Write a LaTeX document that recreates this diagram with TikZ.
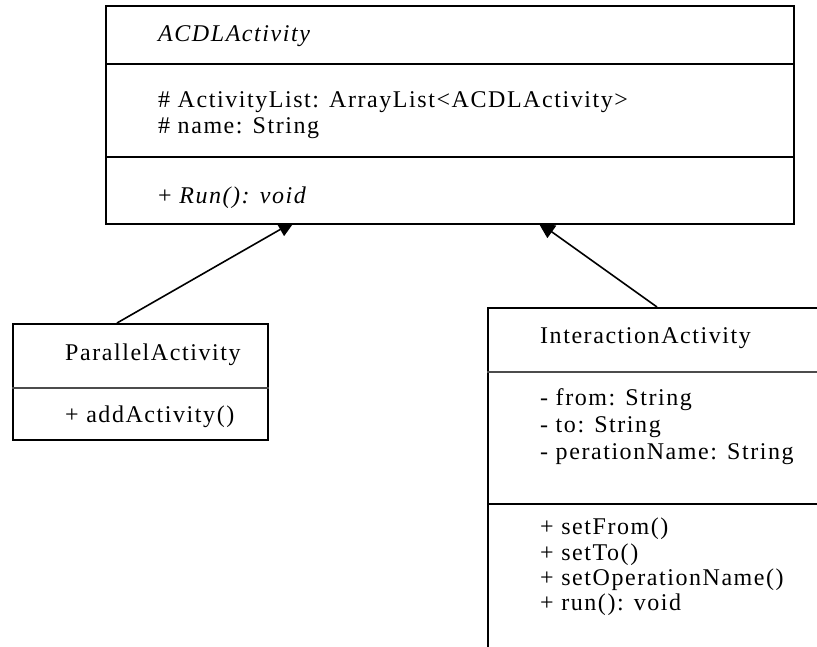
\documentclass[tikz,border=0pt]{standalone}
\usepackage{fontspec}
\setmainfont{Liberation Serif}
\newfontfamily\umlfont[LetterSpace=6.5]{Liberation Serif}
\usetikzlibrary{arrows.meta}

\begin{document}
\begin{tikzpicture}[x=1pt,y=-1pt,
  classbox/.style={draw=black,fill=white,line width=1.8pt,inner sep=0pt,anchor=north west},
  rule/.style={draw=black,line width=1.6pt},
  softrule/.style={draw=black!70,line width=1.4pt},
  member/.style={anchor=base west,inner sep=0pt,font=\umlfont\fontsize{24}{28}\selectfont},
  assoc/.style={draw=black,line width=1.6pt,-{Triangle[length=17pt,width=15pt]}}]

  \useasboundingbox (0,0) rectangle (817,646);
  \clip (0,0) rectangle (817,646);

  % anchors of the class boxes
  \coordinate (acdlNW) at (105,5);
  \coordinate (parNW) at (12,323);
  \coordinate (intNW) at (487,307);

  % associations, drawn first so the boxes cover the tips
  \path (acdlNW) ++(190,216) coordinate (tipL);
  \path (acdlNW) ++(433,217) coordinate (tipR);
  \path (parNW) ++(105,0) coordinate (startL);
  \path (intNW) ++(170,0) coordinate (startR);
  \draw[assoc] (startL) -- (tipL);
  \draw[assoc] (startR) -- (tipR);

  % ACDLActivity
  \node[classbox,minimum width=688pt,minimum height=218pt] (acdl) at (acdlNW) {};
  \draw[rule] ([yshift=-59pt]acdl.north west) -- ([yshift=-59pt]acdl.north east);
  \draw[rule] ([yshift=-152pt]acdl.north west) -- ([yshift=-152pt]acdl.north east);
  \node[member] (acdlName) at (158,41) {\itshape ACDLActivity};
  \node[member] (acdlA1) at (158,107) {\# ActivityList: ArrayList<ACDLActivity>};
  \node[member] (acdlA2) at (158,133) {\# name: String};
  \node[member] (acdlO1) at (158,203) {+ \itshape Run(): void};

  % ParallelActivity
  \node[classbox,minimum width=255pt,minimum height=116pt] (par) at (parNW) {};
  \draw[softrule] ([yshift=-65pt]par.north west) -- ([yshift=-65pt]par.north east);
  \node[member] (parName) at (65,360) {ParallelActivity};
  \node[member] (parO1) at (65,422) {+ addActivity()};

  % InteractionActivity (runs past the right and bottom edges)
  \node[classbox,minimum width=400pt,minimum height=420pt] (int) at (intNW) {};
  \draw[softrule] ([yshift=-65pt]int.north west) -- ([yshift=-65pt]int.north east);
  \draw[rule] ([yshift=-197pt]int.north west) -- ([yshift=-197pt]int.north east);
  \node[member] (intName) at (540,343) {InteractionActivity};
  \node[member] (intA1) at (540,405) {- from: String};
  \node[member] (intA2) at (540,432) {- to: String};
  \node[member] (intA3) at (540,459) {- perationName: String};
  \node[member] (intO1) at (540,534) {+ setFrom()};
  \node[member] (intO2) at (540,560) {+ setTo()};
  \node[member] (intO3) at (540,585) {+ setOperationName()};
  \node[member] (intO4) at (540,610) {+ run(): void};
\end{tikzpicture}
\end{document}
